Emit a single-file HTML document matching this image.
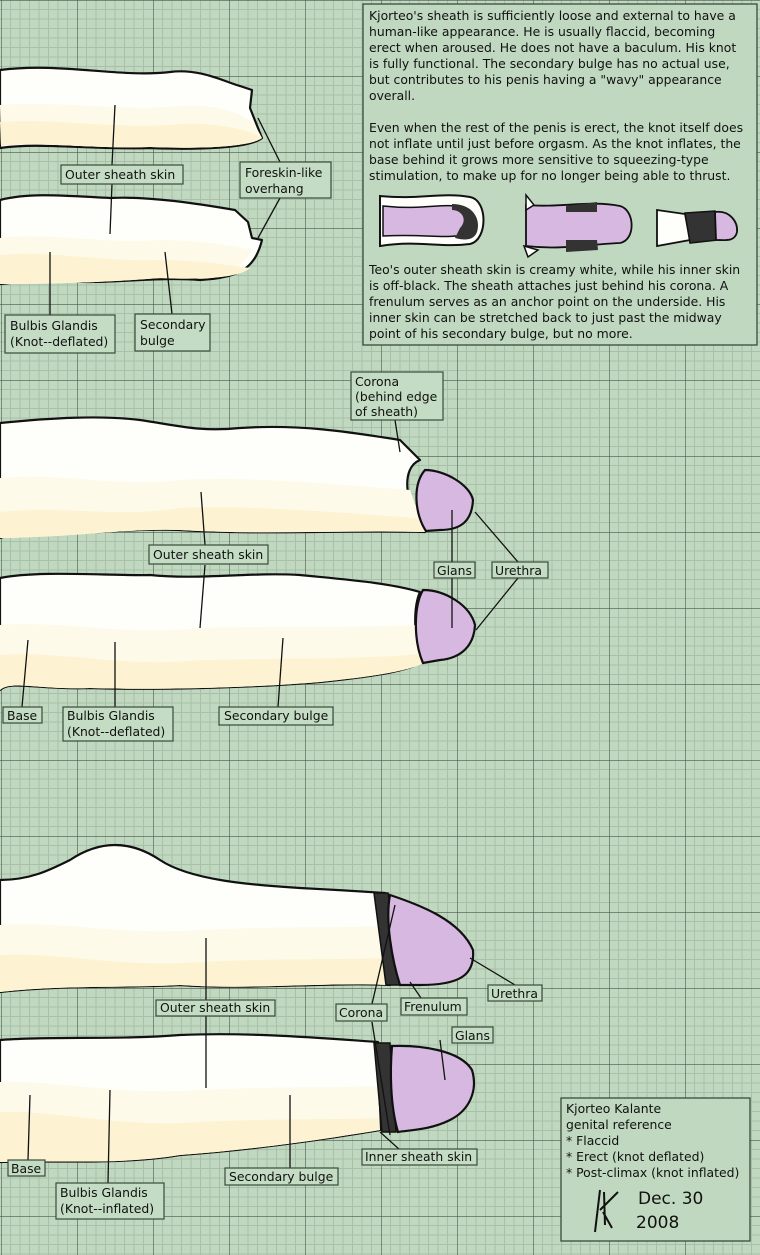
<!DOCTYPE html>
<html><head><meta charset="utf-8"><style>
html,body{margin:0;padding:0;width:760px;height:1255px;overflow:hidden;background:#c0d8c0}
svg{display:block}
text{font-family:"DejaVu Sans","Liberation Sans",sans-serif;font-size:12.4px;fill:#111}
.lb{fill:#c4dcc4;stroke:#3a4a3a;stroke-width:1.2}
.ln{stroke:#111;stroke-width:1.3;fill:none}
.sk{fill:#fefefb;stroke:#111;stroke-width:2.2;stroke-linejoin:round}
.cr{fill:#fdf3d2}
.cr2{fill:#fefaea}
.gl{fill:#d6b8e0;stroke:#111;stroke-width:2.2}
</style></head><body>
<svg width="760" height="1255" viewBox="0 0 760 1255" xmlns="http://www.w3.org/2000/svg">
<defs>
<pattern id="g" x="1" y="0" width="76" height="76" patternUnits="userSpaceOnUse">
<rect width="76" height="76" fill="#c0d8c0"/>
<path d="M9.5 0V76M19 0V76M28.5 0V76M38 0V76M47.5 0V76M57 0V76M66.5 0V76M0 9.5H76M0 19H76M0 28.5H76M0 38H76M0 47.5H76M0 57H76M0 66.5H76" stroke="#a8c0a8" stroke-width="1"/>
<path d="M0 0V76M0 0H76" stroke="#4a5a4a" stroke-width="1.2"/>
</pattern>
</defs>
<rect width="760" height="1255" fill="url(#g)"/>

<!-- Flaccid 1 -->
<path class="sk" d="M0 70 C60 62 120 78 170 72 C200 68 225 82 240 86 L252 90 250 108 262 138 C250 148 200 150 150 148 C90 150 40 142 0 148 Z"/>
<path class="cr2" d="M0 105 C60 100 120 112 180 106 C210 104 240 110 255 125 L262 138 C250 147 200 149 150 147 C90 149 40 141 1 146 Z"/>
<path class="cr" d="M0 122 C60 118 120 130 180 124 C210 122 240 128 255 134 L262 138 C250 147 200 149 150 147 C90 149 40 141 1 146 Z"/>
<!-- Flaccid 2 -->
<path class="sk" d="M0 200 C30 192 70 196 110 198 C150 196 200 204 235 210 L248 222 252 238 262 240 C255 268 240 278 200 280 C150 276 100 286 60 280 C40 278 20 282 0 284 Z"/>
<path class="cr2" d="M0 238 C50 232 100 244 160 240 C200 240 235 246 252 250 C240 278 200 280 160 278 C110 282 60 284 0 284 Z"/>
<path class="cr" d="M0 255 C50 250 100 262 160 260 C200 260 235 266 250 268 C240 278 200 280 160 278 C110 282 60 284 0 284 Z"/>

<!-- Erect 1 -->
<path class="sk" d="M0 423 C50 418 100 415 140 420 C180 426 200 432 240 428 C300 424 350 432 400 440 L420 460 C400 468 405 505 425 532 C340 530 260 535 180 530 C130 528 80 535 40 534 C20 534 5 536 0 538 Z"/>
<path class="cr2" d="M0 478 C60 472 120 488 180 480 C250 476 330 484 410 490 L425 532 C340 530 260 535 180 530 C130 528 80 537 0 538 Z"/>
<path class="cr" d="M0 512 C60 505 120 518 180 508 C250 505 330 512 418 518 L425 532 C340 530 260 535 180 530 C130 528 80 537 0 538 Z"/>
<path class="gl" d="M425 470 C445 470 470 485 473 500 C472 520 462 530 440 530 L426 531 C415 515 412 485 425 470 Z"/>
<!-- Erect 2 -->
<path class="sk" d="M0 578 C40 570 110 576 150 575 C200 580 250 572 300 575 C350 580 390 583 420 592 C412 610 415 645 422 662 C410 670 380 676 320 682 C250 688 150 690 90 688 C40 690 10 680 0 690 Z"/>
<path class="cr2" d="M0 625 C60 620 120 636 200 628 C280 626 350 628 418 625 L424 663 C410 670 380 676 320 682 C250 688 150 690 90 688 C40 690 10 680 0 690 Z"/>
<path class="cr" d="M0 655 C60 650 120 668 200 660 C280 658 350 660 420 654 L424 663 C410 670 380 676 320 682 C250 688 150 690 90 688 C40 690 10 680 0 690 Z"/>
<path class="gl" d="M423 590 C445 590 470 605 475 625 C474 645 462 658 440 660 L423 663 C413 640 414 605 423 590 Z"/>

<!-- Post 1 -->
<path class="sk" d="M0 880 C30 880 50 870 70 860 C100 840 130 840 160 860 C190 880 250 885 300 888 C340 890 370 892 385 893 L390 985 C330 982 250 990 180 985 C120 988 60 985 0 992 Z"/>
<path class="cr2" d="M0 925 C60 920 120 936 200 930 C280 926 330 928 385 926 L388 985 C330 982 250 990 180 985 C120 988 60 985 0 992 Z"/>
<path class="cr" d="M0 955 C60 952 120 968 200 962 C280 958 330 960 385 958 L388 985 C330 982 250 990 180 985 C120 988 60 985 0 992 Z"/>
<path d="M374 893 L388 893 L402 985 L386 985 Z" fill="#333" stroke="#111" stroke-width="1.5"/>
<path class="gl" d="M390 895 C420 905 460 920 473 950 C475 975 460 985 420 985 L400 985 C392 960 385 920 390 895 Z"/>
<!-- Post 2 -->
<path class="sk" d="M0 1040 C50 1036 120 1040 180 1035 C250 1032 320 1038 378 1042 L380 1130 C320 1140 250 1150 180 1155 C120 1165 60 1160 0 1162 Z"/>
<path class="cr2" d="M0 1082 C60 1080 120 1096 200 1090 C280 1086 330 1088 378 1086 L380 1130 C320 1140 250 1150 180 1155 C120 1165 60 1160 0 1162 Z"/>
<path class="cr" d="M0 1112 C60 1110 120 1128 200 1122 C280 1118 330 1120 378 1118 L380 1130 C320 1140 250 1150 180 1155 C120 1165 60 1160 0 1162 Z"/>
<path d="M374 1043 L390 1043 L396 1132 L382 1132 Z" fill="#333" stroke="#111" stroke-width="1.5"/>
<path class="gl" d="M392 1046 C420 1045 460 1050 472 1070 C478 1090 470 1110 450 1120 C430 1130 410 1130 398 1132 C390 1105 390 1070 392 1046 Z"/>

<!-- connectors -->
<g class="ln">
<path d="M115 105 L112 165"/><path d="M112 184 L110 234"/>
<path d="M258 118 L280 162"/><path d="M280 198 L258 238"/>
<path d="M50 252 L50 318"/><path d="M165 252 L172 314"/>
<path d="M395 420 L400 452"/>
<path d="M201 492 L205 545"/><path d="M205 565 L200 628"/>
<path d="M452 510 L452 562"/><path d="M452 578 L452 628"/>
<path d="M475 512 L518 562"/><path d="M518 578 L476 630"/>
<path d="M28 640 L22 707"/><path d="M115 642 L115 707"/><path d="M283 638 L278 707"/>
<path d="M206 938 L206 1000"/><path d="M206 1016 L206 1088"/>
<path d="M470 958 L515 985"/><path d="M410 982 L421 998"/>
<path d="M395 905 L372 1004"/><path d="M372 1022 L390 1135"/>
<path d="M440 1040 L445 1080"/><path d="M380 1132 L400 1150"/>
<path d="M30 1095 L28 1160"/><path d="M110 1090 L108 1183"/><path d="M290 1095 L290 1168"/>
</g>

<!-- labels -->
<g>
<rect class="lb" x="61" y="165" width="122" height="19"/><text x="65" y="179">Outer sheath skin</text>
<rect class="lb" x="240" y="162" width="91" height="36"/><text x="245" y="177">Foreskin-like</text><text x="245" y="193">overhang</text>
<rect class="lb" x="5" y="315" width="110" height="38"/><text x="10" y="330">Bulbis Glandis</text><text x="10" y="346">(Knot--deflated)</text>
<rect class="lb" x="135" y="314" width="75" height="37"/><text x="140" y="329">Secondary</text><text x="140" y="345">bulge</text>
<rect class="lb" x="351" y="372" width="92" height="48"/><text x="355" y="386">Corona</text><text x="355" y="401">(behind edge</text><text x="355" y="416">of sheath)</text>
<rect class="lb" x="149" y="545" width="119" height="19"/><text x="153" y="559">Outer sheath skin</text>
<rect class="lb" x="434" y="562" width="41" height="16"/><text x="437" y="575">Glans</text>
<rect class="lb" x="492" y="562" width="56" height="16"/><text x="495" y="575">Urethra</text>
<rect class="lb" x="3" y="707" width="39" height="16"/><text x="7" y="720">Base</text>
<rect class="lb" x="63" y="707" width="110" height="34"/><text x="67" y="720">Bulbis Glandis</text><text x="67" y="736">(Knot--deflated)</text>
<rect class="lb" x="219" y="707" width="114" height="18"/><text x="224" y="720">Secondary bulge</text>
<rect class="lb" x="156" y="1000" width="119" height="16"/><text x="160" y="1012">Outer sheath skin</text>
<rect class="lb" x="336" y="1004" width="51" height="17"/><text x="339" y="1017">Corona</text>
<rect class="lb" x="401" y="998" width="66" height="17"/><text x="404" y="1011">Frenulum</text>
<rect class="lb" x="488" y="985" width="54" height="16"/><text x="491" y="998">Urethra</text>
<rect class="lb" x="452" y="1027" width="41" height="16"/><text x="455" y="1040">Glans</text>
<rect class="lb" x="362" y="1149" width="115" height="16"/><text x="365" y="1161">Inner sheath skin</text>
<rect class="lb" x="8" y="1160" width="37" height="16"/><text x="11" y="1173">Base</text>
<rect class="lb" x="56" y="1183" width="108" height="36"/><text x="60" y="1197">Bulbis Glandis</text><text x="60" y="1213">(Knot--inflated)</text>
<rect class="lb" x="225" y="1168" width="113" height="17"/><text x="229" y="1181">Secondary bulge</text>
</g>

<!-- main text box -->
<rect x="363" y="4" width="394" height="341" fill="#c0d8c0" stroke="#3a4a3a" stroke-width="1.3"/>
<g>
<text x="369" y="20">Kjorteo's sheath is sufficiently loose and external to have a</text>
<text x="369" y="36">human-like appearance.  He is usually flaccid, becoming</text>
<text x="369" y="52">erect when aroused.  He does not have a baculum.  His knot</text>
<text x="369" y="68">is fully functional.  The secondary bulge has no actual use,</text>
<text x="369" y="84">but contributes to his penis having a "wavy" appearance</text>
<text x="369" y="100">overall.</text>
<text x="369" y="132">Even when the rest of the penis is erect, the knot itself does</text>
<text x="369" y="148">not inflate until just before orgasm.  As the knot inflates, the</text>
<text x="369" y="164">base behind it grows more sensitive to squeezing-type</text>
<text x="369" y="180">stimulation, to make up for no longer being able to thrust.</text>
<text x="369" y="274">Teo's outer sheath skin is creamy white, while his inner skin</text>
<text x="369" y="290">is off-black.  The sheath attaches just behind his corona.  A</text>
<text x="369" y="306">frenulum serves as an anchor point on the underside.  His</text>
<text x="369" y="322">inner skin can be stretched back to just past the midway</text>
<text x="369" y="338">point of his secondary bulge, but no more.</text>
</g>
<!-- mini diagrams -->
<path d="M380 196 C420 200 440 192 470 197 C488 200 488 240 470 244 C440 248 420 240 380 246 Z" fill="#fefefb" stroke="#111" stroke-width="2"/>
<path d="M383 206 C420 210 440 204 455 206 L470 212 C480 222 478 236 468 238 L455 236 C440 238 420 234 383 236 Z" fill="#d6b8e0" stroke="#111" stroke-width="1.5"/>
<path d="M452 204 C470 204 478 215 478 225 C478 238 470 242 455 238 L460 228 C468 220 462 210 452 210 Z" fill="#333"/>
<path d="M526 205 C560 208 590 200 620 206 C635 210 636 240 620 243 C580 245 560 250 526 246 Z" fill="#d6b8e0" stroke="#111" stroke-width="1.8"/>
<path d="M566 206 L597 202 L597 212 L566 212 Z M566 240 L597 240 L598 250 L566 252 Z" fill="#333"/>
<path d="M526 195 L534 205 L526 210 Z M524 246 L538 250 L528 257 Z" fill="#fefefb" stroke="#111" stroke-width="1.5"/>
<path d="M657 210 L685 214 L690 240 L657 246 Z" fill="#fefefb" stroke="#111" stroke-width="1.8"/>
<path d="M685 213 L715 211 L718 240 L690 243 Z" fill="#333" stroke="#111" stroke-width="1.5"/>
<path d="M715 212 C730 210 738 222 737 232 C735 242 725 240 716 240 Z" fill="#d6b8e0" stroke="#111" stroke-width="1.8"/>

<!-- signature box -->
<rect x="561" y="1098" width="189" height="143" fill="#c0d8c0" stroke="#3a4a3a" stroke-width="1.3"/>
<text x="566" y="1113">Kjorteo Kalante</text>
<text x="566" y="1129">genital reference</text>
<text x="566" y="1145">* Flaccid</text>
<text x="566" y="1161">* Erect (knot deflated)</text>
<text x="566" y="1177">* Post-climax (knot inflated)</text>
<g stroke="#111" stroke-width="2" fill="none">
<path d="M600 1190 L595 1232 M604 1192 L605 1225 M600 1210 L618 1192 M603 1212 L612 1228"/>
</g>
<text x="638" y="1204" style="font-size:17px;font-family:'DejaVu Sans',sans-serif">Dec. 30</text>
<text x="636" y="1228" style="font-size:17px;font-family:'DejaVu Sans',sans-serif">2008</text>
</svg>
</body></html>
